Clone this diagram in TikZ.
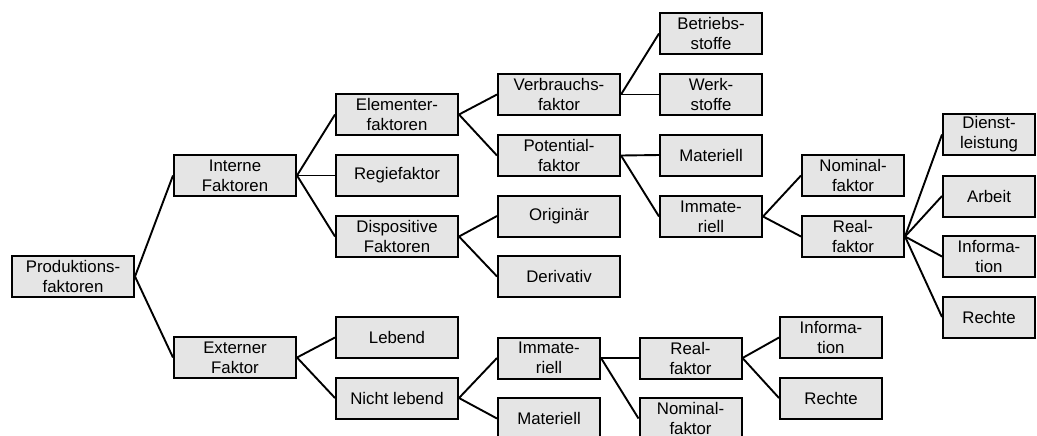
\documentclass[tikz,border=0pt]{standalone}
\usepackage{fontspec}
\setmainfont{Liberation Sans}
\begin{document}
\begin{tikzpicture}[x=0.5pt,y=-0.5pt,
  faktor/.style={draw,line width=1pt,fill=black!10,minimum height=20.5pt,
    inner sep=0pt,align=center,font=\fontsize{8.4}{10}\selectfont},
  breit/.style={faktor,minimum width=61pt},
  mittel/.style={faktor,minimum width=51pt},
  schmal/.style={faktor,minimum width=46pt},
  kante/.style={line width=0.95pt}]
\useasboundingbox (0,0) rectangle (1037,435);
\clip (0,0) rectangle (1037,435);
% Spalte 0 und 1
\node[breit] (prod) at (73,276.5) {Produktions-\\faktoren};
\node[breit] (interne) at (235,175.5) {Interne\\Faktoren};
\node[breit] (extern) at (235,357.5) {Externer\\Faktor};
% Spalte 2
\node[breit] (element) at (397,114.5) {Elementer-\\faktoren};
\node[breit] (regie) at (397,175.5) {Regiefaktor};
\node[breit] (dispo) at (397,236.5) {Dispositive\\Faktoren};
\node[breit] (lebend) at (397,337.5) {Lebend};
\node[breit] (nichtleb) at (397,398) {Nicht lebend};
% Spalte 3
\node[breit] (verbrauch) at (559,94.5) {Verbrauchs-\\faktor};
\node[breit] (potential) at (559,155.5) {Potential-\\faktor};
\node[breit] (original) at (559,216) {Originär};
\node[breit] (derivativ) at (559,276.5) {Derivativ};
% Spalte 4
\node[mittel] (betrieb) at (711,33.5) {Betriebs-\\stoffe};
\node[mittel] (werk) at (711,94.5) {Werk-\\stoffe};
\node[mittel] (mat) at (711,155) {Materiell};
\node[mittel] (immat) at (711,216.5) {Immate-\\riell};
% Spalte 5 und 6
\node[mittel] (nominal) at (853,175.5) {Nominal-\\faktor};
\node[mittel] (real) at (853,236.5) {Real-\\faktor};
\node[schmal] (dienst) at (989,134.5) {Dienst-\\leistung};
\node[schmal] (arbeit) at (989,196) {Arbeit};
\node[schmal] (info) at (989,256.5) {Informa-\\tion};
\node[schmal] (rechte) at (989,317) {Rechte};
% unterer Ast
\node[mittel] (immatu) at (549,358) {Immate-\\riell};
\node[mittel] (matu) at (549,418.5) {Materiell};
\node[mittel] (realu) at (690.5,358) {Real-\\faktor};
\node[mittel] (nominalu) at (690.5,418.5) {Nominal-\\faktor};
\node[mittel] (infou) at (831,337.5) {Informa-\\tion};
\node[mittel] (rechteu) at (831,398) {Rechte};
% Verbindungen
\draw[kante] (prod.east) -- (interne.west);
\draw[kante] (prod.east) -- (extern.west);
\draw[kante] (interne.east) -- (element.west);
\draw[kante] (interne.east) -- (regie.west);
\draw[kante] (interne.east) -- (dispo.west);
\draw[kante] (extern.east) -- (lebend.west);
\draw[kante] (extern.east) -- (nichtleb.west);
\draw[kante] (element.east) -- (verbrauch.west);
\draw[kante] (element.east) -- (potential.west);
\draw[kante] (dispo.east) -- (original.west);
\draw[kante] (dispo.east) -- (derivativ.west);
\draw[kante] (verbrauch.east) -- (betrieb.west);
\draw[kante] (verbrauch.east) -- (werk.west);
\draw[kante] (potential.east) -- (mat.west);
\draw[kante] (potential.east) -- (immat.west);
\draw[kante] (immat.east) -- (nominal.west);
\draw[kante] (immat.east) -- (real.west);
\draw[kante] (real.east) -- (dienst.west);
\draw[kante] (real.east) -- (arbeit.west);
\draw[kante] (real.east) -- (info.west);
\draw[kante] (real.east) -- (rechte.west);
\draw[kante] (nichtleb.east) -- (immatu.west);
\draw[kante] (nichtleb.east) -- (matu.west);
\draw[kante] (immatu.east) -- (realu.west);
\draw[kante] (immatu.east) -- (nominalu.west);
\draw[kante] (realu.east) -- (infou.west);
\draw[kante] (realu.east) -- (rechteu.west);
\end{tikzpicture}
\end{document}
